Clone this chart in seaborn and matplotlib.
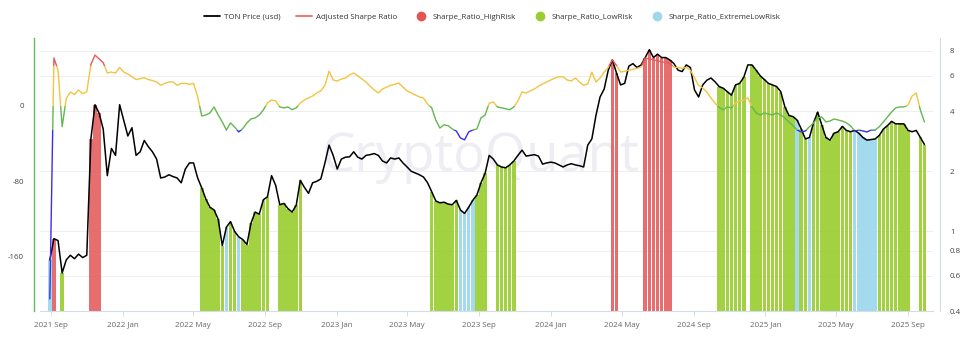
import numpy as np
import pandas as pd
import matplotlib
matplotlib.use("Agg")
import matplotlib.pyplot as plt
import matplotlib.dates as mdates
from matplotlib.lines import Line2D
from matplotlib.patches import Rectangle
from matplotlib.ticker import FixedLocator, FixedFormatter, NullLocator
import seaborn as sns

# ---- weekly data -----------------------------------------------------------
dates = pd.date_range("2021-08-30", periods=214, freq="7D")

ton_price = [
    0.72, 0.92, 0.90, 0.62, 0.72, 0.76, 0.73, 0.77, 0.74, 0.76,
    2.9, 4.3, 3.9, 3.25, 1.9, 2.6, 2.4, 4.3, 3.6, 3.0,
    3.3, 2.4, 2.5, 2.85, 2.65, 2.5, 2.3, 1.85, 1.87, 1.92,
    1.88, 1.85, 1.75, 2.05, 2.2, 2.2, 1.85, 1.65, 1.45, 1.32,
    1.28, 1.15, 0.85, 1.05, 1.12, 1.0, 0.94, 0.91, 0.86, 1.1,
    1.25, 1.22, 1.44, 1.49, 1.9, 1.7, 1.36, 1.38, 1.3, 1.25,
    1.35, 1.8, 1.66, 1.55, 1.75, 1.78, 1.83, 2.2, 2.7, 2.4,
    2.05, 2.3, 2.35, 2.36, 2.5, 2.35, 2.3, 2.4, 2.42, 2.45,
    2.4, 2.25, 2.2, 2.33, 2.3, 2.33, 2.2, 2.1, 2.0, 1.96,
    1.92, 1.87, 1.75, 1.58, 1.42, 1.39, 1.40, 1.37, 1.36, 1.43,
    1.28, 1.23, 1.32, 1.43, 1.52, 1.75, 1.95, 2.4, 2.3, 2.15,
    2.1, 2.08, 2.15, 2.25, 2.4, 2.55, 2.38, 2.4, 2.42, 2.38,
    2.17, 2.2, 2.22, 2.2, 2.15, 2.1, 2.15, 2.18, 2.15, 2.13,
    2.1, 2.7, 2.9, 3.8, 4.7, 5.15, 6.4, 7.2, 6.2, 5.4,
    5.5, 6.7, 6.9, 6.6, 6.8, 7.4, 8.1, 7.4, 7.7, 7.4,
    7.4, 7.2, 6.9, 6.4, 6.3, 6.8, 6.6, 5.1, 4.7, 5.4,
    5.7, 5.85, 5.6, 5.3, 5.2, 5.0, 4.8, 5.4, 5.5, 5.9,
    6.8, 6.8, 6.4, 6.0, 5.75, 5.5, 5.4, 5.3, 5.0, 4.2,
    3.8, 3.75, 3.6, 3.25, 2.9, 2.95, 3.5, 3.95, 3.4, 2.95,
    2.86, 3.1, 3.15, 3.35, 3.2, 3.15, 3.2, 3.1, 2.95, 2.86,
    2.88, 2.9, 3.02, 3.25, 3.38, 3.55, 3.45, 3.45, 3.45, 3.2,
    3.15, 3.2, 2.95, 2.72,
]

adjusted_sharpe = [
    -205, 51, 38, -22, 8, 15, 12, 17, 13, 15,
    44, 54, 50, 46, 35, 36, 35, 41, 36, 34,
    31, 28, 29, 30, 28, 27, 25.5, 22, 24, 25.5,
    25.5, 22, 24, 24, 23, 24, 9.6, -10.6, -9.6, -7.4,
    -1, -9.6, -17, -25.5, -18, -22.3, -27.6, -24, -18, -13.8,
    -12.7, -9.6, -4.2, 3.2, 6.4, 5.3, -1, -2, -1, -4,
    -2, 3, 6.4, 8.5, 10.6, 13.8, 16, 22, 37, 27.6,
    26.5, 28.7, 29.7, 33, 35, 32, 28.7, 25.5, 21, 17,
    13.8, 18, 20, 22, 23, 24.4, 20, 16, 13.8, 11.7,
    9.6, 8.5, 2, -2, -15, -23.4, -20, -21, -24.4, -26.6,
    -34, -36, -27.6, -25.5, -24.4, -12.7, -9.6, 3, 4.2, -1,
    -2, -3, -4, -1, 5.3, 15, 13.8, 16, 18, 21,
    23.4, 25.5, 27.6, 29.7, 31, 31, 27.6, 26.5, 29.7, 25.5,
    22, 23.4, 36, 25.5, 29.7, 36, 41, 49, 43, 36,
    37, 38, 39, 40, 41.4, 51, 50, 49, 48, 47,
    46, 45, 41, 41, 40, 41, 38, 30, 22, 19,
    15, 8.5, 3, -1.5, -4.2, -1, -2, 3.2, 5.3, 6.4,
    8.5, -1, -7.4, -9.6, -7.4, -8.5, -9.6, -7.4, -9.6, -12.7,
    -17, -21, -25.5, -27.6, -26.6, -22, -18, -12.7, -11.7, -17,
    -16, -13.8, -14.9, -16, -18, -21, -26.6, -25.5, -26.6, -27.6,
    -25.5, -25.5, -22, -17, -11.7, -6.4, -2, -1, -1, 1,
    10.6, 13.8, -4.2, -17,
]

# H = high risk, L = low risk, E = extreme low risk, N = neutral
risk_regime = (
    "EHNLNNNNNN" "HHHNNNNNNN" "NNNNNNNNNN" "NNNNNNNLLL" "LLLELLELLL"
    "LLLLNNLLLL" "LLNNNNNNNN" "NNNNNNNNNN" "NNNNNNNNNN" "NNNLLLLLLL"
    "EEEELLLNNL" "LLLLNNNNNN" "NNNNNNNNNN" "NNNNNNNHHN" "NNNNNHHHHH"
    "HHNNNNNNNN" "NNNLLLLLLL" "NLLLLLLLLL" "LLELLELLLL" "LLLLLLEEEE"
    "EELLLLLLLL" "NNLL"
)

x_tick_labels = ["2021 Sep", "2022 Jan", "2022 May", "2022 Sep", "2023 Jan",
                 "2023 May", "2023 Sep", "2024 Jan", "2024 May", "2024 Sep",
                 "2025 Jan", "2025 May", "2025 Sep"]
price_ticks = [0.4, 0.6, 0.8, 1, 2, 4, 6, 8]
price_tick_labels = ["0.4", "0.6", "0.8", "1", "2", "4", "6", "8"]
sharpe_ticks = [-160, -80, 0]
sharpe_tick_labels = ["-160", "-80", "0"]

# ---- styling ---------------------------------------------------------------
sns.set_theme(style="white")
plt.rcParams["font.family"] = ["Open Sans", "DejaVu Sans"]
FS = 5.7

C_HIGH, C_LOW, C_EXT = "#e35555", "#9acd32", "#9fd8ec"
LINE_RED, LINE_YEL, LINE_GRN, LINE_BLU = "#e45c5c", "#f2c441", "#62b84e", "#3b2cf0"

df = pd.DataFrame({"date": dates, "price": ton_price,
                   "sharpe": adjusted_sharpe, "regime": list(risk_regime)})

W, H = 975, 346
fig = plt.figure(figsize=(W / 100, H / 100), dpi=100)
ax = fig.add_axes([40 / W, 1 - 311 / H, (933 - 40) / W, (311 - 38) / H])
ax2 = ax.twinx()

# watermark
ax.text(0.493, 0.565, "CryptoQuant", transform=ax.transAxes, ha="center",
        va="center", fontsize=38, color="#ededf3", zorder=0.5,
        family=["Open Sans", "DejaVu Sans"])

# regime bars reaching up to the price
for code, col, a in (("H", C_HIGH, 0.85), ("L", C_LOW, 0.92), ("E", C_EXT, 0.95)):
    sub = df[df["regime"] == code]
    ax.bar(sub["date"], sub["price"], width=6.0, color=col, alpha=a,
           linewidth=0, zorder=1)

sns.lineplot(data=df, x="date", y="price", ax=ax, color="black",
             linewidth=1.1, zorder=3)

# adjusted Sharpe ratio, coloured by value zones
zones = [(42, 1e4, LINE_RED), (0, 42, LINE_YEL), (-25, 0, LINE_GRN), (-1e4, -25, LINE_BLU)]
for lo, hi, col in zones:
    sns.lineplot(data=df, x="date", y="sharpe", ax=ax2, color=col, linewidth=1.0)
    ln = ax2.lines[-1]
    ln.set_clip_path(Rectangle((-1e6, lo), 2e6, hi - lo, transform=ax2.transData))

# ---- axes ------------------------------------------------------------------
ax.set_xlim(pd.Timestamp("2021-08-13 06:00"), pd.Timestamp("2025-10-13 14:00"))
ax.set_yscale("log")
ax.set_ylim(0.4, 9.27)
ax.yaxis.set_major_locator(FixedLocator(price_ticks))
ax.yaxis.set_major_formatter(FixedFormatter(price_tick_labels))
ax.yaxis.set_minor_locator(NullLocator())
ax.yaxis.tick_right()
ax2.yaxis.tick_left()
ax2.set_ylim(-217.8, 72.2)
ax2.yaxis.set_major_locator(FixedLocator(sharpe_ticks))
ax2.yaxis.set_major_formatter(FixedFormatter(sharpe_tick_labels))

tick_dates = pd.date_range("2021-09-01", "2025-09-01", freq="4MS")
ax.xaxis.set_major_locator(FixedLocator(mdates.date2num(tick_dates)))
ax.xaxis.set_major_formatter(FixedFormatter(x_tick_labels))
ax.xaxis.set_minor_locator(NullLocator())

ax.set_xlabel("")
ax.set_ylabel("")
ax2.set_ylabel("")

ax.grid(axis="y", color="#efefef", linewidth=0.8)
ax.grid(axis="x", visible=False)
ax.set_axisbelow(True)

for s in ("top", "left"):
    ax.spines[s].set_visible(False)
ax.spines["bottom"].set_color("#d6dbe8")
ax.spines["bottom"].set_linewidth(0.8)
ax.spines["right"].set_color("#d6dbe8")
ax.spines["right"].set_linewidth(0.8)
ax.spines["right"].set_position(("outward", 5.0))
for s in ("top", "right", "bottom"):
    ax2.spines[s].set_visible(False)
ax2.spines["left"].set_color("#62c05a")
ax2.spines["left"].set_linewidth(1.0)
ax2.spines["left"].set_position(("outward", 4.3))

ax.tick_params(axis="x", length=3.6, width=0.7, color="#d6dbe8", pad=4,
               labelsize=FS, labelcolor="#666666", bottom=True)
ax.tick_params(axis="y", length=0, pad=7.2, labelsize=FS, labelcolor="#444444",
               right=True, left=False, labelright=True, labelleft=False)
ax2.tick_params(axis="y", length=0, pad=7.2, labelsize=FS, labelcolor="#444444",
                left=True, right=False, labelleft=True, labelright=False)

# ---- legend ----------------------------------------------------------------
handles = [
    Line2D([], [], color="black", lw=1.3),
    Line2D([], [], color="#f06a6a", lw=1.3),
    Line2D([], [], ls="none", marker="o", ms=6, color=C_HIGH),
    Line2D([], [], ls="none", marker="o", ms=6, color=C_LOW),
    Line2D([], [], ls="none", marker="o", ms=6, color=C_EXT),
]
labels = ["TON Price (usd)", "Adjusted Sharpe Ratio", "Sharpe_Ratio_HighRisk",
          "Sharpe_Ratio_LowRisk", "Sharpe_Ratio_ExtremeLowRisk"]
fig.legend(handles, labels, loc="center", bbox_to_anchor=(492 / W, 1 - 17 / H),
           ncol=5, frameon=False, fontsize=FS, handlelength=2.0,
           handletextpad=0.5, columnspacing=2.0, labelcolor="#333333")

fig.savefig("out.png", dpi=100)
